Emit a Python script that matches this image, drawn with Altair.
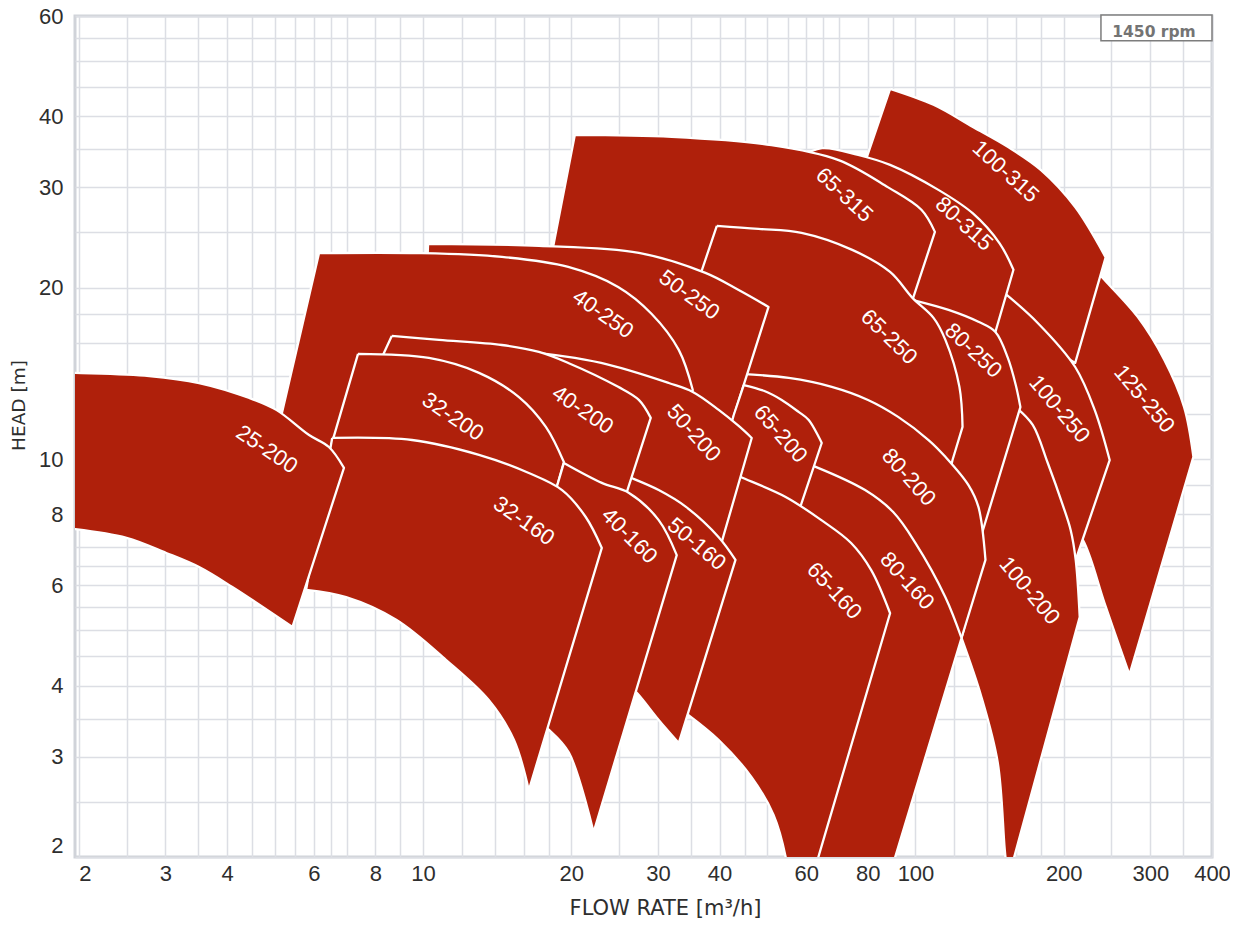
import altair as alt
import pandas as pd

RED = "#AF200B"

# ---------------- data: pump ranges (flow rate m3/h, head m) ----------------
# drawing order: first = bottom-most
ORDER = ["125-250", "100-315", "100-250", "100-200", "80-315", "80-250", "65-315",
         "65-250", "80-200", "80-160", "50-250", "40-250", "65-200", "65-160",
         "50-200", "50-160", "40-200", "32-200", "40-160", "32-160", "25-200"]

Q_125_250 = [232.2, 240, 282.6, 320.1, 351.1, 366.7, 271.9, 241.9, 220.3, 194.5, 194.5]
H_125_250 = [21.5, 20.8, 17.77, 14.93, 12.34, 10.09, 4.18, 5.59, 7.12, 8.47, 16.86]

Q_100_315 = [88.8, 108.8, 130.8, 153.96, 179.6, 211, 243.3, 211, 177.1, 146.9, 92.2, 78.7]
H_100_315 = [44.7, 41.9, 38.3, 35.34, 32.2, 27.7, 22.6, 14.75, 16.19, 19.03, 28.5, 32.9]

Q_100_250 = [149.0, 177.1, 211, 231.2, 247.9, 211.5, 199.1, 146.9, 137.4, 143.9]
H_100_250 = [19.82, 17.34, 14.51, 12.19, 9.96, 6.65, 5.65, 5.89, 13.77, 17.55]

Q_100_200 = [160.6, 173.0, 185.6, 199.1, 206.6, 211.5, 215.5, 154.0, 151.8, 146.9, 136.1, 124.0, 136.7, 133.6]
H_100_200 = [12.29, 11.48, 9.84, 8.30, 7.50, 6.65, 5.28, 1.82, 2.06, 2.93, 3.82, 4.85, 6.65, 7.2]

Q_80_315 = [57.9, 64.6, 76.5, 88.8, 111.3, 130.8, 148.3, 158.1, 145.3, 137.4, 101.4, 92.2]
H_80_315 = [33.8, 35.16, 34.2, 32.86, 29.7, 27.0, 23.9, 21.5, 16.72, 14.93, 16.86, 26.8]

Q_80_250 = [94.4, 98.6, 116.7, 134.2, 145.3, 154.0, 159.8, 163.3, 135.5, 131.1, 92.2, 84.0]
H_80_250 = [19.19, 19.03, 18.28, 17.42, 16.72, 15.05, 13.49, 12.34, 7.26, 6.65, 9.19, 16.86]

Q_65_315 = [20.34, 32.0, 51.0, 69.8, 88.0, 102.8, 109.5, 98.6, 84.0, 36.3, 18.19]
H_65_315 = [37.1, 36.8, 35.6, 33.5, 30.0, 27.4, 25.06, 19.03, 14.93, 19.03, 22.56]

Q_65_250 = [39.5, 48.0, 58.7, 74.4, 88.8, 98.6, 108.8, 115.0, 122.8, 124.6, 118.9, 113.9, 57.9, 43.75, 34.6]
H_65_250 = [25.68, 25.37, 24.96, 23.3, 21.31, 19.19, 17.7, 16.19, 13.39, 11.39, 9.96, 8.47, 9.57, 12.2, 18.28]

Q_80_200 = [44.2, 55.3, 67.6, 80.1, 92.2, 106.3, 115.0, 128.1, 134.2, 138.7, 124.0, 111.3, 64.4, 45.8, 42.9]
H_80_200 = [14.11, 13.88, 13.39, 12.7, 11.86, 10.8, 10.09, 9.0, 8.24, 6.65, 4.85, 4.44, 7.81, 10.37, 13.12]

Q_80_160 = [61.25, 62.7, 79.0, 90.1, 100.0, 115.0, 124.0, 88.0, 57.9, 63.6, 57.9]
H_80_160 = [9.76, 9.69, 8.82, 8.07, 7.12, 5.72, 4.85, 1.82, 1.82, 5.65, 8.47]

Q_50_250 = [10.24, 17.19, 27.43, 37.45, 43.75, 50.3, 43.1, 38.9, 27.43, 10.05]
H_50_250 = [23.88, 23.69, 23.02, 21.23, 19.81, 18.5, 12.15, 9.19, 10.8, 15.55]

Q_40_250 = [6.15, 9.81, 14.46, 19.72, 24.9, 29.1, 33.06, 35.3, 28.7, 15.66, 8.94, 4.94]
H_40_250 = [23.0, 23.0, 22.65, 21.75, 20.06, 18.0, 15.55, 13.22, 8.47, 9.19, 9.76, 10.17]

Q_65_200 = [44.8, 49.2, 53.5, 57.9, 60.7, 64.5, 58.7, 56.6, 43.75, 41.4, 42.75]
H_65_200 = [13.49, 13.18, 12.7, 12.1, 11.71, 10.67, 8.37, 7.50, 8.47, 10.8, 11.95]

Q_65_160 = [43.35, 44.2, 54.5, 64.4, 74.0, 81.3, 88.8, 61.5, 55.3, 54.5, 51.5, 46.5, 39.85, 34.6, 33.06, 36.3, 39.85]
H_65_160 = [9.38, 9.30, 8.58, 7.81, 7.12, 6.38, 5.36, 1.82, 1.82, 2.0, 2.37, 2.76, 3.21, 3.55, 3.77, 6.65, 8.47]

Q_50_200 = [16.40, 16.95, 23.0, 31.55, 35.3, 39.85, 43.75, 46.5, 40.79, 39.5, 30.1, 26.5, 25.5, 16.40]
H_50_200 = [15.36, 15.36, 14.75, 13.6, 13.12, 12.2, 11.43, 10.89, 7.35, 6.65, 7.81, 9.0, 9.57, 14.93]

Q_50_160 = [25.9, 26.5, 30.1, 34.2, 39.85, 43.1, 33.06, 30.1, 27.2, 24.9, 23.8, 25.5]
H_50_160 = [9.33, 9.26, 8.82, 8.24, 7.29, 6.65, 3.17, 3.48, 3.88, 4.18, 7.81, 9.11]

Q_40_200 = [8.64, 10.78, 14.46, 17.19, 19.72, 24.9, 27.43, 29.0, 25.9, 24.9, 18.9, 11.29, 8.03]
H_40_200 = [16.45, 16.19, 15.86, 15.42, 14.75, 13.39, 12.7, 11.81, 8.72, 7.81, 8.47, 11.71, 14.33]

Q_32_200 = [7.38, 10.28, 12.99, 15.66, 17.76, 19.32, 18.69, 18.05, 9.81, 6.21]
H_32_200 = [15.30, 15.05, 14.17, 12.85, 11.39, 9.88, 8.93, 7.81, 9.0, 9.19]

Q_40_160 = [19.32, 23.07, 26.2, 30.1, 32.75, 22.2, 19.78, 18.05, 16.40, 17.6, 18.69]
H_40_160 = [9.84, 9.08, 8.72, 7.81, 6.78, 2.21, 3.05, 3.34, 3.55, 8.47, 8.93]

Q_32_160 = [6.54, 9.50, 12.99, 16.40, 19.16, 21.4, 23.07, 16.40, 15.30, 13.61, 11.13, 8.82, 6.98, 5.79]
H_32_160 = [10.89, 10.80, 10.17, 9.45, 8.82, 7.91, 6.98, 2.62, 3.21, 3.77, 4.44, 5.22, 5.72, 5.89]

Q_25_200 = [1.85, 1.968, 2.78, 3.51, 4.44, 5.035, 5.87, 6.44, 6.91, 5.43, 4.10, 3.51, 3.01, 2.50, 1.968, 1.85]
H_25_200 = [14.2, 14.17, 13.99, 13.60, 12.80, 12.2, 11.02, 10.50, 9.65, 5.07, 5.96, 6.46, 6.84, 7.27, 7.53, 7.56]

# vertices that are sharp corners (all others lie on smooth head curves)
CORNERS = {
    "125-250": [0, 5, 6, 9, 10],
    "100-315": [0, 6, 7, 8, 9, 10, 11],
    "100-250": [0, 4, 5, 6, 7, 8, 9],
    "100-200": [0, 6, 7, 11, 12, 13],
    "80-315": [0, 7, 8, 9, 10, 11],
    "80-250": [0, 7, 8, 9, 10, 11],
    "65-315": [0, 6, 7, 8, 9, 10],
    "65-250": [0, 9, 10, 11, 12, 13, 14],
    "80-200": [0, 9, 10, 11, 12, 13, 14],
    "80-160": [0, 6, 7, 8, 9, 10],
    "50-250": [0, 5, 6, 7, 8, 9],
    "40-250": [0, 7, 8, 9, 10, 11],
    "65-200": [0, 5, 6, 7, 8, 9, 10],
    "65-160": [0, 6, 7, 8, 13, 14, 15, 16],
    "50-200": [0, 7, 8, 9, 10, 11, 12, 13],
    "50-160": [0, 5, 6, 9, 10, 11],
    "40-200": [0, 7, 8, 9, 10, 11, 12],
    "32-200": [0, 5, 6, 7, 8, 9],
    "40-160": [0, 4, 5, 8, 9, 10],
    "32-160": [0, 6, 7, 13],
    "25-200": [0, 8, 9, 15],
}

SHAPES = {
    "125-250": (Q_125_250, H_125_250), "100-315": (Q_100_315, H_100_315),
    "100-250": (Q_100_250, H_100_250), "100-200": (Q_100_200, H_100_200),
    "80-315": (Q_80_315, H_80_315), "80-250": (Q_80_250, H_80_250),
    "65-315": (Q_65_315, H_65_315), "65-250": (Q_65_250, H_65_250),
    "80-200": (Q_80_200, H_80_200), "80-160": (Q_80_160, H_80_160),
    "50-250": (Q_50_250, H_50_250), "40-250": (Q_40_250, H_40_250),
    "65-200": (Q_65_200, H_65_200), "65-160": (Q_65_160, H_65_160),
    "50-200": (Q_50_200, H_50_200), "50-160": (Q_50_160, H_50_160),
    "40-200": (Q_40_200, H_40_200), "32-200": (Q_32_200, H_32_200),
    "40-160": (Q_40_160, H_40_160), "32-160": (Q_32_160, H_32_160),
    "25-200": (Q_25_200, H_25_200),
}

LABEL_NAMES = ["25-200", "32-200", "32-160", "40-200", "40-160", "40-250", "50-250",
               "50-200", "50-160", "65-160", "65-200", "80-200", "80-160", "65-250",
               "65-315", "80-315", "80-250", "100-315", "100-250", "100-200", "125-250"]
LABEL_Q = [4.82, 11.50, 16.03, 21.1, 26.26, 23.2, 34.75, 35.46, 35.96, 68.4, 53.2, 96.9,
           96.2, 88.4, 71.7, 125.5, 131.1, 152.4, 196.0, 170.4, 291.6]
LABEL_H = [10.40, 11.87, 7.79, 12.2, 7.33, 17.99, 19.42, 11.11, 7.09, 5.87, 11.07, 9.29,
           6.11, 16.38, 29.1, 25.89, 15.51, 31.98, 12.24, 5.87, 12.75]
LABEL_ANGLE = [34, 34, 35, 34, 45, 35, 36, 48, 40, 47, 49, 48, 48, 44, 43, 42, 43, 42, 50, 50, 50]

# axes
X_DOMAIN = [1.965, 400]
Y_DOMAIN = [2, 60]
X_GRID = [2, 2.5, 3, 3.5, 4, 4.5, 5, 5.5, 6, 6.5, 7, 8, 9, 10, 12, 14, 16, 18, 20, 25, 30, 35,
          40, 45, 50, 55, 60, 65, 70, 80, 90, 100, 120, 140, 160, 180, 200, 250, 300, 350, 400]
Y_GRID = [2, 2.5, 3, 3.5, 4, 4.5, 5, 5.5, 6, 6.5, 7, 8, 9, 10, 12, 14, 16, 18, 20, 25, 30, 35,
          40, 45, 50, 55, 60]
X_LABELS = [2, 3, 4, 6, 8, 10, 20, 30, 40, 60, 80, 100, 200, 300, 400]
Y_LABELS = [2, 3, 4, 6, 8, 10, 20, 30, 40, 60]

RPM_TEXT = "1450 rpm"
RPM_BOX_Q = [238.0, 400.0]
RPM_BOX_H = [54.3, 60.27]
RPM_TEXT_POS = (305.0, 56.3)

# ---------------- chart ----------------
GRID_COLOR = "#dcdee4"
LABEL_COLOR = "#2e2e2e"


def x_axis():
    return alt.Axis(
        values=X_GRID,
        labelExpr="indexof(%s, datum.value) >= 0 ? format(datum.value, 'd') : ''" % str(X_LABELS),
        labelOverlap=False,
        labelAlign={"condition": {"test": "datum.value == 2", "value": "left"}, "value": "center"},
        labelFont="Liberation Sans", labelFontSize=22, labelColor=LABEL_COLOR,
        labelPadding=6, ticks=False, tickSize=0, domain=False,
        grid=True, gridColor=GRID_COLOR, gridWidth=1.5,
        title="FLOW RATE [m\u00b3/h]", titleFont="DejaVu Sans", titleFontSize=21,
        titleFontWeight="normal", titleColor=LABEL_COLOR,
        titleX=590, titleY=51, titleAlign="center", titleBaseline="middle", titleAngle=0,
    )


def y_axis():
    return alt.Axis(
        values=Y_GRID,
        labelExpr="indexof(%s, datum.value) >= 0 ? format(datum.value, 'd') : ''" % str(Y_LABELS),
        labelOverlap=False,
        labelBaseline={"condition": {"test": "datum.value == 2", "value": "bottom"}, "value": "middle"},
        labelFont="Liberation Sans", labelFontSize=22, labelColor=LABEL_COLOR,
        labelPadding=12, ticks=False, tickSize=0, domain=False,
        grid=True, gridColor=GRID_COLOR, gridWidth=1.5,
        title="HEAD [m]", titleFont="DejaVu Sans", titleFontSize=18.5,
        titleFontWeight="normal", titleColor=LABEL_COLOR,
        titleX=-57, titleY=389, titleAlign="center", titleBaseline="middle", titleAngle=-90,
    )


def xenc(field):
    return alt.X(f"{field}:Q", scale=alt.Scale(type="log", domain=X_DOMAIN, nice=False), axis=x_axis())


def yenc(field):
    return alt.Y(f"{field}:Q", scale=alt.Scale(type="log", domain=Y_DOMAIN, nice=False), axis=y_axis())


layers = []
for name in ORDER:
    qs, hs = SHAPES[name]
    corners = set(CORNERS[name])
    qq, hh = [], []
    for k in range(len(qs)):
        reps = 2 if k in corners else 1
        qq += [qs[k]] * reps
        hh += [hs[k]] * reps
    # close the outline at the (corner) first vertex
    qq += [qs[0], qs[0]]
    hh += [hs[0], hs[0]]
    df = pd.DataFrame({"Q": qq, "H": hh, "i": list(range(len(qq)))})
    layers.append(
        alt.Chart(df).mark_line(fill=RED, stroke="white", strokeWidth=2.3,
                                strokeJoin="round", interpolate="catmull-rom", clip=True)
        .encode(x=xenc("Q"), y=yenc("H"), order=alt.Order("i:Q"))
    )

lab_df = pd.DataFrame({"name": LABEL_NAMES, "Q": LABEL_Q, "H": LABEL_H, "ang": LABEL_ANGLE})
labels = alt.Chart(lab_df).mark_text(color="white", fontSize=22, font="Liberation Sans",
                                     align="center", baseline="middle").encode(
    x=xenc("Q"), y=yenc("H"), text="name:N", angle=alt.Angle("ang:Q", scale=None)
)

box_df = pd.DataFrame({"Q": [RPM_BOX_Q[0]], "Q2": [RPM_BOX_Q[1]],
                       "H": [RPM_BOX_H[0]], "H2": [RPM_BOX_H[1]]})
box = alt.Chart(box_df).mark_rect(fill="white", stroke="#7d7d7d", strokeWidth=1.5).encode(
    x=xenc("Q"), x2="Q2:Q", y=yenc("H"), y2="H2:Q"
)
rpm_df = pd.DataFrame({"Q": [RPM_TEXT_POS[0]], "H": [RPM_TEXT_POS[1]], "t": [RPM_TEXT]})
rpm = alt.Chart(rpm_df).mark_text(color="#747474", fontSize=15.5, fontWeight="bold",
                                  font="DejaVu Sans", align="center", baseline="middle").encode(
    x=xenc("Q"), y=yenc("H"), text="t:N"
)

chart = alt.layer(*layers, labels, box, rpm).properties(
    width=1137, height=841,
    autosize=alt.AutoSizeParams(type="none"),
    padding={"left": 67, "top": 8, "right": 18, "bottom": 64},
    background="white",
).configure_view(stroke="#d0d3d9", strokeWidth=3)

chart.save("out.html", embed_options={"renderer": "svg", "actions": False})
